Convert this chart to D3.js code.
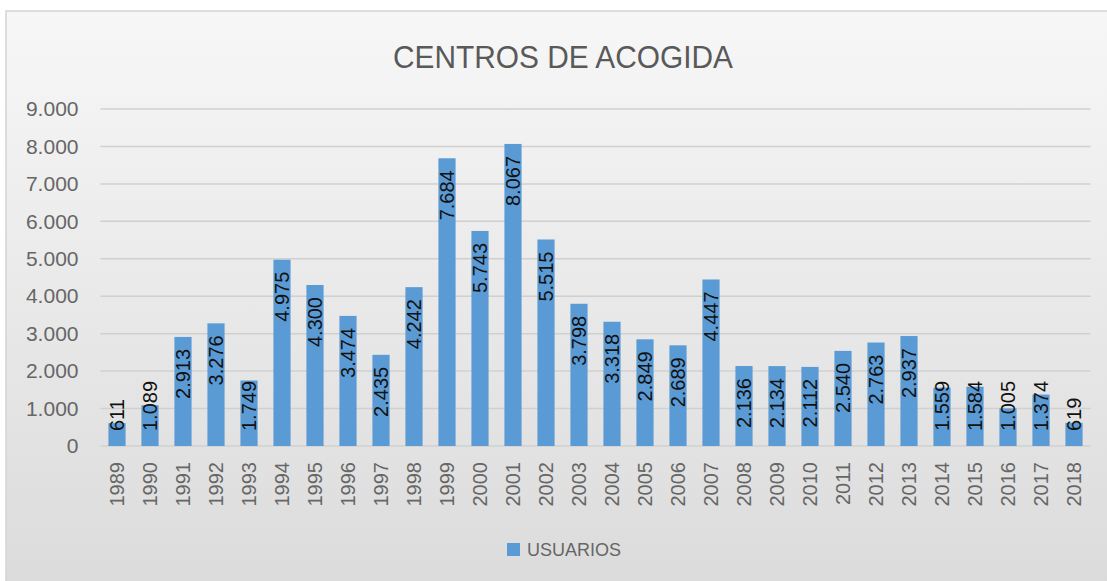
<!DOCTYPE html>
<html>
<head>
<meta charset="utf-8">
<script src="https://cdn.jsdelivr.net/npm/d3@7"></script>
<style>
  body { margin: 0; background: #fff; }
  svg { display: block; font-family: "Liberation Sans", Arial, sans-serif; }
</style>
</head>
<body>
<div id="chart"></div>
<script>
const width = 1107;
const height = 581;

// data
const years = ["1989","1990","1991","1992","1993","1994","1995","1996","1997","1998",
  "1999","2000","2001","2002","2003","2004","2005","2006","2007","2008",
  "2009","2010","2011","2012","2013","2014","2015","2016","2017","2018"];
const usuarios = [611, 1089, 2913, 3276, 1749, 4975, 4300, 3474, 2435, 4242,
  7684, 5743, 8067, 5515, 3798, 3318, 2849, 2689, 4447, 2136,
  2134, 2112, 2540, 2763, 2937, 1559, 1584, 1005, 1374, 619];
const yTicks = [0, 1000, 2000, 3000, 4000, 5000, 6000, 7000, 8000, 9000];
const seriesName = "USUARIOS";
const title = "CENTROS DE ACOGIDA";

const margin = { top: 109, left: 100.5, bottom: 581 - 446, right: 1107 - 1090.5 };

const fmt = d => d3.format(",")(d).replace(/,/g, ".");

const svg = d3.select("#chart").append("svg").attr("width", width).attr("height", height);

// background gradient of the chart frame
const grad = svg.append("defs").append("linearGradient")
  .attr("id", "bg").attr("x1", 0).attr("y1", 0).attr("x2", 0).attr("y2", 1);
grad.append("stop").attr("offset", "0%").attr("stop-color", "#f7f7f7");
grad.append("stop").attr("offset", "100%").attr("stop-color", "#dadada");

svg.append("rect")
  .attr("x", 6).attr("y", 11)
  .attr("width", 1120).attr("height", 600)
  .attr("fill", "url(#bg)")
  .attr("stroke", "#d4d4d4")
  .attr("stroke-width", 1.5);

const xScale = d3.scaleBand()
  .domain(years)
  .range([margin.left, width - margin.right])
  .paddingInner(0.48)
  .paddingOuter(0.24);

const yScale = d3.scaleLinear()
  .domain([0, 9000])
  .range([height - margin.bottom, margin.top]);

// gridlines
svg.append("g")
  .selectAll("line")
  .data(yTicks)
  .join("line")
  .attr("x1", margin.left)
  .attr("x2", width - margin.right)
  .attr("y1", d => yScale(d))
  .attr("y2", d => yScale(d))
  .attr("stroke", "#d0d0d0")
  .attr("stroke-width", 1.5);

// y axis
const yAxis = d3.axisLeft(yScale).tickValues(yTicks).tickFormat(fmt).tickSize(0).tickPadding(22);
const gy = svg.append("g")
  .attr("transform", `translate(${margin.left},0)`)
  .call(yAxis);
gy.select(".domain").remove();
gy.selectAll("text")
  .attr("fill", "#666")
  .style("font-size", "21px");

// x axis
const xAxis = d3.axisBottom(xScale).tickSize(0).tickPadding(0);
const gx = svg.append("g")
  .attr("transform", `translate(0,${height - margin.bottom})`)
  .call(xAxis);
gx.select(".domain").remove();
gx.selectAll("text")
  .attr("fill", "#666")
  .style("font-size", "20px")
  .attr("text-anchor", "end")
  .attr("dy", null)
  .attr("transform", "translate(7,16) rotate(-90)");

// bars
svg.append("g")
  .selectAll("rect")
  .data(usuarios)
  .join("rect")
  .attr("x", (d, i) => xScale(years[i]))
  .attr("width", xScale.bandwidth())
  .attr("y", d => yScale(d))
  .attr("height", d => yScale(0) - yScale(d))
  .attr("fill", "#5b9bd5");

// data labels, inside end of bar, kept above the baseline
const labels = svg.append("g")
  .selectAll("text")
  .data(usuarios)
  .join("text")
  .text(d => fmt(d))
  .attr("fill", "#111")
  .style("font-size", "20px")
  .attr("dy", "0.35em");

labels.each(function (d, i) {
  const len = this.getComputedTextLength();
  const cx = xScale(years[i]) + xScale.bandwidth() / 2;
  let top = yScale(d) + 12;
  if (top + len > yScale(0) - 15) top = yScale(0) - 15 - len;
  d3.select(this)
    .attr("text-anchor", "end")
    .attr("transform", `translate(${cx},${top}) rotate(-90)`);
});

// title
svg.append("text")
  .attr("x", 563)
  .attr("y", 68)
  .attr("text-anchor", "middle")
  .attr("fill", "#595959")
  .style("font-size", "31px")
  .attr("textLength", 340)
  .attr("lengthAdjust", "spacingAndGlyphs")
  .text(title);

// legend
const legend = svg.append("g").attr("transform", "translate(507,543)");
legend.append("rect")
  .attr("width", 13).attr("height", 13)
  .attr("fill", "#5b9bd5");
legend.append("text")
  .attr("x", 20).attr("y", 13)
  .attr("fill", "#666")
  .style("font-size", "18px")
  .text(seriesName);
</script>
</body>
</html>
